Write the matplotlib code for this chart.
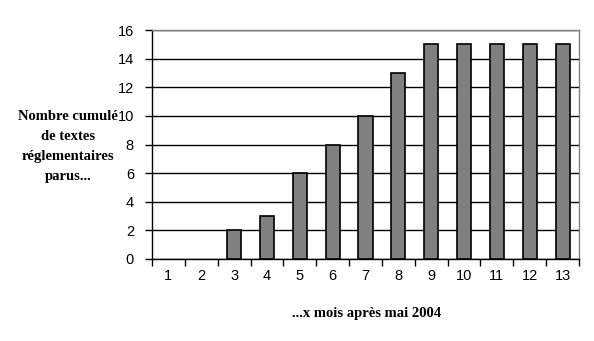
import matplotlib.pyplot as plt
import numpy as np

months = list(range(1, 14))
cumulative_texts = [0, 0, 2, 3, 6, 8, 10, 13, 15, 15, 15, 15, 15]
y_ticks = [0, 2, 4, 6, 8, 10, 12, 14, 16]

fig = plt.figure(figsize=(5.94, 3.41), dpi=100)
ax = fig.add_axes([152 / 594, 1 - 259 / 341, (579 - 152) / 594, (259 - 30) / 341])

x = np.arange(len(months))
edge = ["black" if v > 0 else "none" for v in cumulative_texts]
ax.bar(x, cumulative_texts, width=0.43, color="#808080", edgecolor=edge,
       linewidth=1.2, zorder=3)

ax.set_xlim(-0.5, len(months) - 0.5)
ax.set_ylim(0, 16)
ax.set_yticks(y_ticks)
ax.yaxis.grid(True, color="black", linewidth=1.0, zorder=0)

# category labels centred, tick marks on boundaries
ax.set_xticks(np.arange(len(months) + 1) - 0.5)
ax.set_xticklabels([])
ax.set_xticks(x, minor=True)
ax.set_xticklabels([str(m) for m in months], minor=True,
                   family="Liberation Sans", fontsize=10.5)
ax.tick_params(axis="x", which="minor", length=0, pad=7)
ax.tick_params(axis="x", which="major", length=5, width=1, direction="out")
ax.tick_params(axis="y", length=5, width=1, direction="out", pad=8)
for lbl in ax.get_yticklabels():
    lbl.set_family("Liberation Sans")
    lbl.set_fontsize(10.5)

ax.spines["left"].set_color("black")
ax.spines["bottom"].set_color("black")
ax.spines["top"].set_color("#808080")
ax.spines["right"].set_color("#808080")
for s in ax.spines.values():
    s.set_linewidth(1.0)
ax.set_axisbelow(True)

fig.text(68 / 594, 1 - 146 / 341,
         "Nombre cumulé\nde textes\nréglementaires\nparus...",
         ha="center", va="center", family="Liberation Serif",
         fontweight="bold", fontsize=10.5, linespacing=1.7)
fig.text(367 / 594, 1 - 313 / 341, "...x mois après mai 2004",
         ha="center", va="center", family="Liberation Serif",
         fontweight="bold", fontsize=10.5)

fig.savefig("out.png", dpi=100)
